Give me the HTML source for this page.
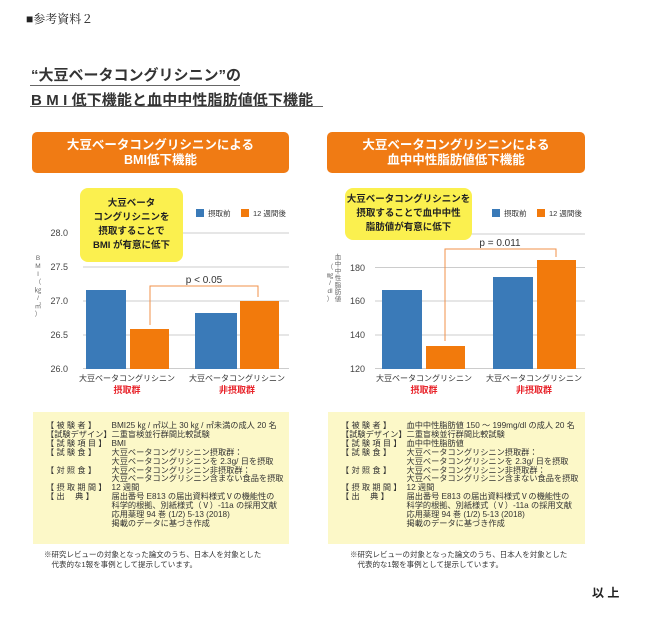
<!DOCTYPE html>
<html><head><meta charset="utf-8"><style>
body{margin:0;width:650px;height:627px;background:#fff;position:relative;overflow:hidden;font-family:"Liberation Sans","Noto Sans CJK JP",sans-serif;color:#222}
.a{position:absolute;white-space:nowrap}
.hdr{position:absolute;background:#f07b14;border-radius:5px;color:#fff;font-weight:bold;font-size:12.5px;line-height:15px;text-align:center}
.call{position:absolute;background:#fbf04f;border-radius:8px;font-weight:bold;font-size:9.5px;line-height:14px;text-align:center;color:#222}
.info{position:absolute;background:#fcf8c8;font-size:8.2px;line-height:8.9px;color:#333}
.info td{padding:0;vertical-align:top;white-space:nowrap}
</style></head><body>
<div class="a" style="left:26px;top:10px;font-size:12px;font-family:'Liberation Serif','Noto Serif CJK SC',serif">■参考資料２</div>
<div class="a" style="left:31px;top:64px;font-size:15px;font-weight:bold;color:#333">“大豆ベータコングリシニン”の</div>
<div class="a" style="left:30px;top:85px;width:210px;height:1px;background:#666"></div>
<div class="a" style="left:31px;top:89px;font-size:15px;font-weight:bold;color:#333;letter-spacing:0.1px">B M I 低下機能と血中中性脂肪値低下機能</div>
<div class="a" style="left:30px;top:106px;width:293px;height:1px;background:#666"></div>

<div class="hdr" style="left:32px;top:132px;width:257px;height:41px;padding-top:6px;box-sizing:border-box">大豆ベータコングリシニンによる<br>BMI低下機能</div>
<div class="hdr" style="left:327px;top:132px;width:258px;height:41px;padding-top:6px;box-sizing:border-box">大豆ベータコングリシニンによる<br>血中中性脂肪値低下機能</div>

<svg class="a" style="left:0;top:0" width="650" height="627" font-family="Liberation Sans, Noto Sans CJK JP, sans-serif">
<g stroke="#ccc" stroke-width="1">
<line x1="83" x2="289" y1="233" y2="233"/><line x1="83" x2="289" y1="267" y2="267"/><line x1="83" x2="289" y1="301" y2="301"/><line x1="83" x2="289" y1="335" y2="335"/><line x1="83" x2="289" y1="368.5" y2="368.5"/>
<line x1="375" x2="585" y1="234" y2="234"/><line x1="375" x2="585" y1="267.5" y2="267.5"/><line x1="375" x2="585" y1="301" y2="301"/><line x1="375" x2="585" y1="335" y2="335"/><line x1="375" x2="585" y1="368.5" y2="368.5"/>
</g>
<g font-size="9" fill="#444" text-anchor="end">
<text x="68" y="236">28.0</text><text x="68" y="270">27.5</text><text x="68" y="304">27.0</text><text x="68" y="338">26.5</text><text x="68" y="372">26.0</text>
<text x="365" y="271">180</text><text x="365" y="304">160</text><text x="365" y="338">140</text><text x="365" y="372">120</text>
</g>
<g font-size="6.5" fill="#666" text-anchor="middle">
<text x="38" y="260">B</text><text x="38" y="268">M</text><text x="38" y="276">I</text><text x="38" y="284">（</text><text x="38" y="292">㎏</text><text x="38" y="300">/</text><text x="38" y="308">㎡</text><text x="38" y="316">）</text>
<text x="338" y="259">血</text><text x="338" y="266">中</text><text x="338" y="273">中</text><text x="338" y="280">性</text><text x="338" y="287">脂</text><text x="338" y="294">肪</text><text x="338" y="301">値</text>
<text x="330" y="269">（</text><text x="330" y="277">㎎</text><text x="330" y="285">/</text><text x="330" y="293">dl</text><text x="330" y="301">）</text>
</g>
<rect x="86" y="290" width="40" height="79" fill="#3a7ab8"/>
<rect x="130" y="329" width="39" height="40" fill="#f27a0c"/>
<rect x="195" y="313" width="42" height="56" fill="#3a7ab8"/>
<rect x="240" y="301" width="39" height="68" fill="#f27a0c"/>
<rect x="382" y="290" width="40" height="79" fill="#3a7ab8"/>
<rect x="426" y="346" width="39" height="23" fill="#f27a0c"/>
<rect x="493" y="277" width="40" height="92" fill="#3a7ab8"/>
<rect x="537" y="260" width="39" height="109" fill="#f27a0c"/>
<g fill="none" stroke="#f0904a" stroke-width="1">
<polyline points="150,325 150,286 258,286 258,297"/>
<polyline points="445,341 445,249 556,249 556,257"/>
</g>
<text x="204" y="283" font-size="10" fill="#333" text-anchor="middle">p &lt; 0.05</text>
<text x="500" y="246" font-size="10" fill="#333" text-anchor="middle">p = 0.011</text>
<rect x="196" y="209" width="8" height="8" fill="#3a7ab8"/><text x="208" y="216" font-size="7.5" fill="#333">摂取前</text>
<rect x="241" y="209" width="8" height="8" fill="#f27a0c"/><text x="253" y="216" font-size="7.5" fill="#333">12 週間後</text>
<rect x="492" y="209" width="8" height="8" fill="#3a7ab8"/><text x="504" y="216" font-size="7.5" fill="#333">摂取前</text>
<rect x="537" y="209" width="8" height="8" fill="#f27a0c"/><text x="549" y="216" font-size="7.5" fill="#333">12 週間後</text>
<g font-size="8" fill="#333" text-anchor="middle">
<text x="127" y="381">大豆ベータコングリシニン</text><text x="237" y="381">大豆ベータコングリシニン</text>
<text x="424" y="381">大豆ベータコングリシニン</text><text x="534" y="381">大豆ベータコングリシニン</text>
</g>
<g font-size="9" fill="#e8232a" font-weight="bold" text-anchor="middle">
<text x="127" y="393">摂取群</text><text x="237" y="393">非摂取群</text>
<text x="424" y="393">摂取群</text><text x="534" y="393">非摂取群</text>
</g>
</svg>

<div class="call" style="left:80px;top:188px;width:103px;height:74px;padding-top:9px;box-sizing:border-box">大豆ベータ<br>コングリシニンを<br>摂取することで<br>BMI が有意に低下</div>
<div class="call" style="left:345px;top:188px;width:127px;height:52px;padding-top:5px;box-sizing:border-box">大豆ベータコングリシニンを<br>摂取することで血中中性<br>脂肪値が有意に低下</div>

<div class="info" style="left:33px;top:412px;width:256px;height:132px;padding:10px 0 0 13px;box-sizing:border-box"><table cellspacing="0">
<tr><td style="width:57px">【 被 験 者 】</td><td>BMI25 ㎏ / ㎡以上 30 ㎏ / ㎡未満の成人 20 名</td></tr>
<tr><td>【試験デザイン】</td><td>二重盲検並行群間比較試験</td></tr>
<tr><td>【 試 験 項 目 】</td><td>BMI</td></tr>
<tr><td>【 試 験 食 】</td><td>大豆ベータコングリシニン摂取群：<br>大豆ベータコングリシニンを 2.3g/ 日を摂取</td></tr>
<tr><td>【 対 照 食 】</td><td>大豆ベータコングリシニン非摂取群：<br>大豆ベータコングリシニン含まない食品を摂取</td></tr>
<tr><td>【 摂 取 期 間 】</td><td>12 週間</td></tr>
<tr><td>【 出　 典 】</td><td>届出番号 E813 の届出資料様式Ⅴの機能性の<br>科学的根拠、別紙様式（Ⅴ）-11a の採用文献<br>応用薬理 94 巻 (1/2) 5-13 (2018)<br>掲載のデータに基づき作成</td></tr>
</table></div>
<div class="info" style="left:328px;top:412px;width:257px;height:132px;padding:10px 0 0 13px;box-sizing:border-box"><table cellspacing="0">
<tr><td style="width:57px">【 被 験 者 】</td><td>血中中性脂肪値 150 ～ 199mg/dl の成人 20 名</td></tr>
<tr><td>【試験デザイン】</td><td>二重盲検並行群間比較試験</td></tr>
<tr><td>【 試 験 項 目 】</td><td>血中中性脂肪値</td></tr>
<tr><td>【 試 験 食 】</td><td>大豆ベータコングリシニン摂取群：<br>大豆ベータコングリシニンを 2.3g/ 日を摂取</td></tr>
<tr><td>【 対 照 食 】</td><td>大豆ベータコングリシニン非摂取群：<br>大豆ベータコングリシニン含まない食品を摂取</td></tr>
<tr><td>【 摂 取 期 間 】</td><td>12 週間</td></tr>
<tr><td>【 出　 典 】</td><td>届出番号 E813 の届出資料様式Ⅴの機能性の<br>科学的根拠、別紙様式（Ⅴ）-11a の採用文献<br>応用薬理 94 巻 (1/2) 5-13 (2018)<br>掲載のデータに基づき作成</td></tr>
</table></div>

<div class="a" style="left:44px;top:550px;font-size:7.5px;line-height:10px;color:#333">※研究レビューの対象となった論文のうち、日本人を対象とした<br>　代表的な1報を事例として提示しています。</div>
<div class="a" style="left:350px;top:550px;font-size:7.5px;line-height:10px;color:#333">※研究レビューの対象となった論文のうち、日本人を対象とした<br>　代表的な1報を事例として提示しています。</div>
<div class="a" style="left:592px;top:584px;font-size:12px;font-weight:bold">以 上</div>
</body></html>
